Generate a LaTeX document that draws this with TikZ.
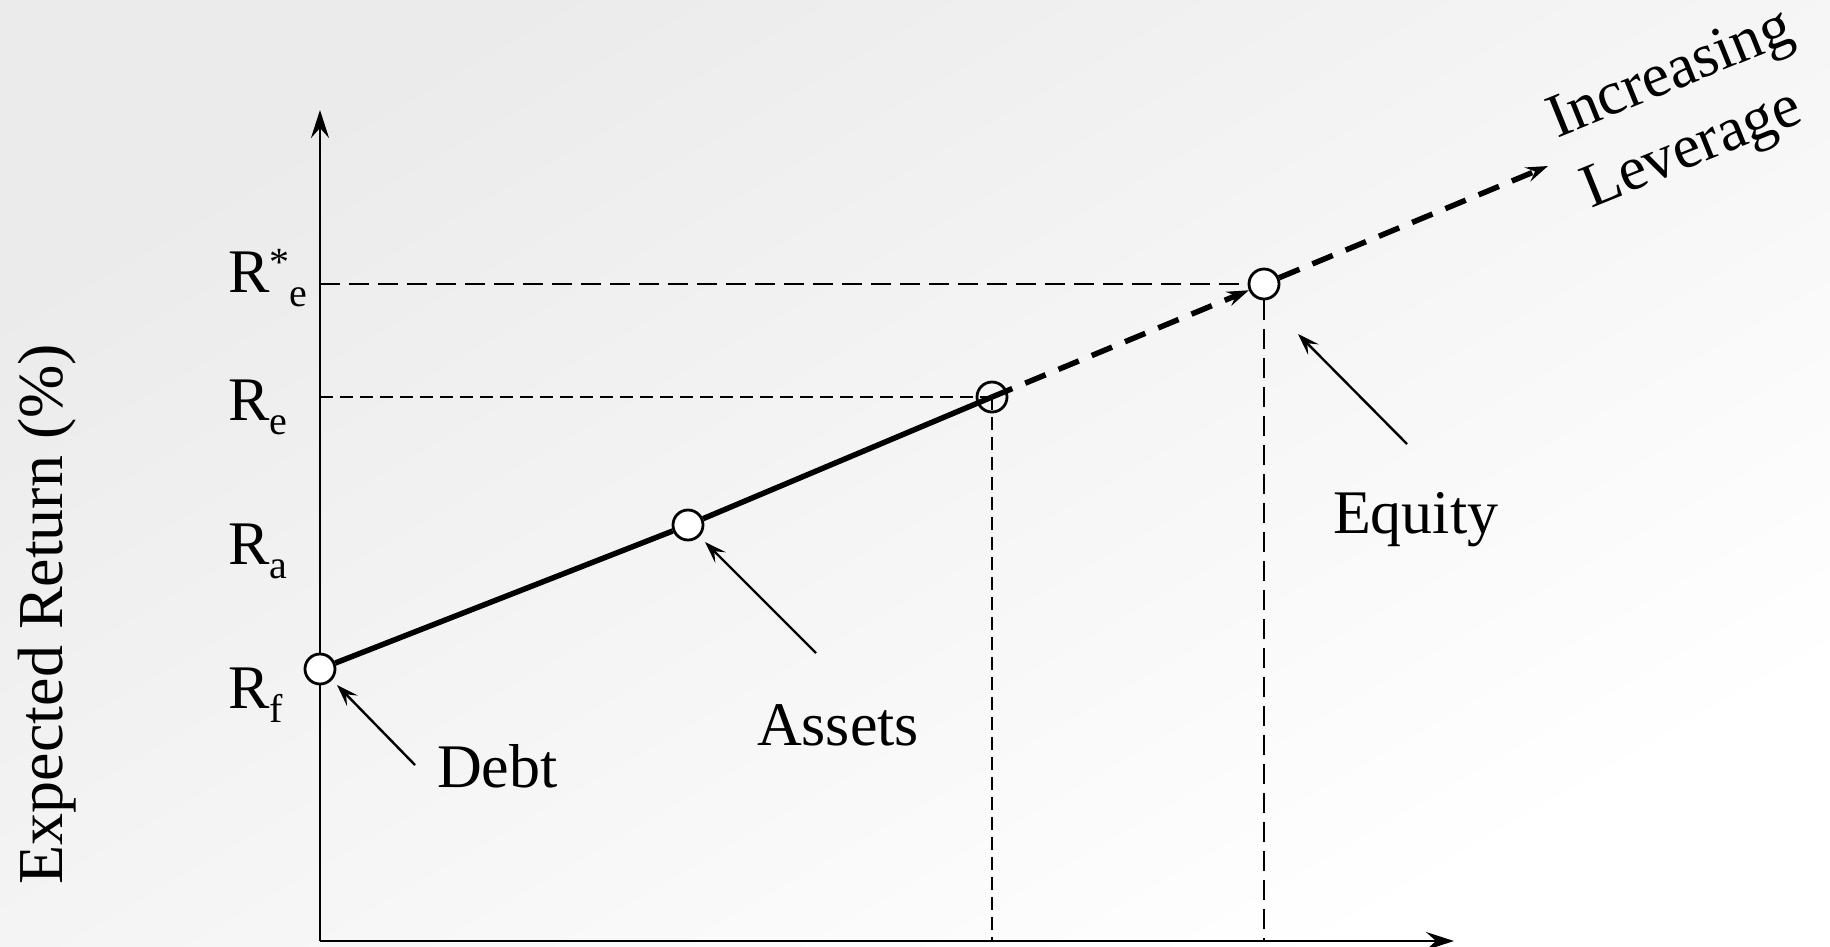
\documentclass[tikz,border=0pt]{standalone}
\usepackage{fontspec}
\setmainfont{Liberation Serif}
\usetikzlibrary{arrows.meta}
\newcommand\lowsub[1]{\raisebox{-14pt}{\fontsize{40}{40}\selectfont #1}}
\newcommand\highsup[1]{\raisebox{17pt}{\fontsize{40}{40}\selectfont #1}}
\begin{document}
\begin{tikzpicture}[x=1pt,y=-1pt,
  txt/.style={font=\fontsize{62}{74}\selectfont, inner sep=0pt, outer sep=0pt},
  pt/.style={circle, draw, line width=2.8pt, minimum size=30pt, inner sep=0pt, fill=white},
  axisline/.style={line width=2.8pt, -{Stealth[length=28pt,width=18pt,inset=10pt]}},
  ann/.style={line width=2.4pt, -{Stealth[length=22pt,width=15pt,inset=9pt]}},
  shortdash/.style={line width=2.3pt, dash pattern=on 13pt off 7pt},
  longdash/.style={line width=2.3pt, dash pattern=on 20pt off 9pt},
  levline/.style={line width=5.5pt, dash pattern=on 22pt off 14pt, -{Stealth[length=22pt,width=15pt,inset=8pt]}},
]
\useasboundingbox (0,0) rectangle (1830,946);
\fill[top color=gray!16, bottom color=white, shading angle=30] (0,0) rectangle (1830,946);

% coordinates
\coordinate (O) at (320,941);
\coordinate (ytop) at (320,110);
\coordinate (xend) at (1454,941);
\coordinate (yRs) at (320,284);
\coordinate (yRe) at (320,397);
\coordinate (xRe) at (992,941);
\coordinate (xRs) at (1264,941);
\coordinate (levend) at (1548,166);

% axes
\draw[axisline] (O) -- (ytop);
\draw[axisline] (O) -- (xend);

% points
\node[pt] (debt) at (320,669) {};
\node[pt] (assets) at (688,525) {};
\node[pt, fill=none] (re) at (992,397) {};
\node[pt] (eq) at (1264,284) {};

% guide lines
\draw[shortdash] (yRe) -- (re.center);
\draw[shortdash] (re.center) -- (xRe);
\draw[longdash] (yRs) -- (eq.west);
\draw[longdash] (eq.south) -- (xRs);

% main line
\draw[line width=5.5pt] (debt) -- (assets);
\draw[line width=5.5pt] (assets) -- (re.center);
\draw[levline] (re.center) -- (eq);
\draw[levline] (eq) -- (levend);

% axis labels
\node[txt, anchor=base west] (lRs) at (228,292) {R\highsup{*}\lowsub{e}};
\node[txt, anchor=base west] (lRe) at (228,420) {R\lowsub{e}};
\node[txt, anchor=base west] (lRa) at (228,564) {R\lowsub{a}};
\node[txt, anchor=base west] (lRf) at (228,708) {R\lowsub{f}};
\node[txt, rotate=90, anchor=base, font=\fontsize{64}{76}\selectfont] (ylab) at (62,614) {Expected Return (\%)};

% annotations
\node[txt, anchor=base west] (tdebt) at (437,787) {Debt};
\node[txt, anchor=base west] (tassets) at (757,745) {Assets};
\node[txt, anchor=base west] (teq) at (1333,533) {Equity};
\coordinate (adebt) at (415,765);
\coordinate (aassets) at (816,653);
\coordinate (aeq) at (1407,444);
\draw[ann] (adebt) -- (337,685);
\draw[ann] (aassets) -- (705,542);
\draw[ann] (aeq) -- (1298,334);

\node[txt, rotate=22, anchor=base west] (inc) at (1557,138) {Increasing};
\node[txt, rotate=22, anchor=base west] (lev) at (1591,208) {Leverage};
\end{tikzpicture}
\end{document}
